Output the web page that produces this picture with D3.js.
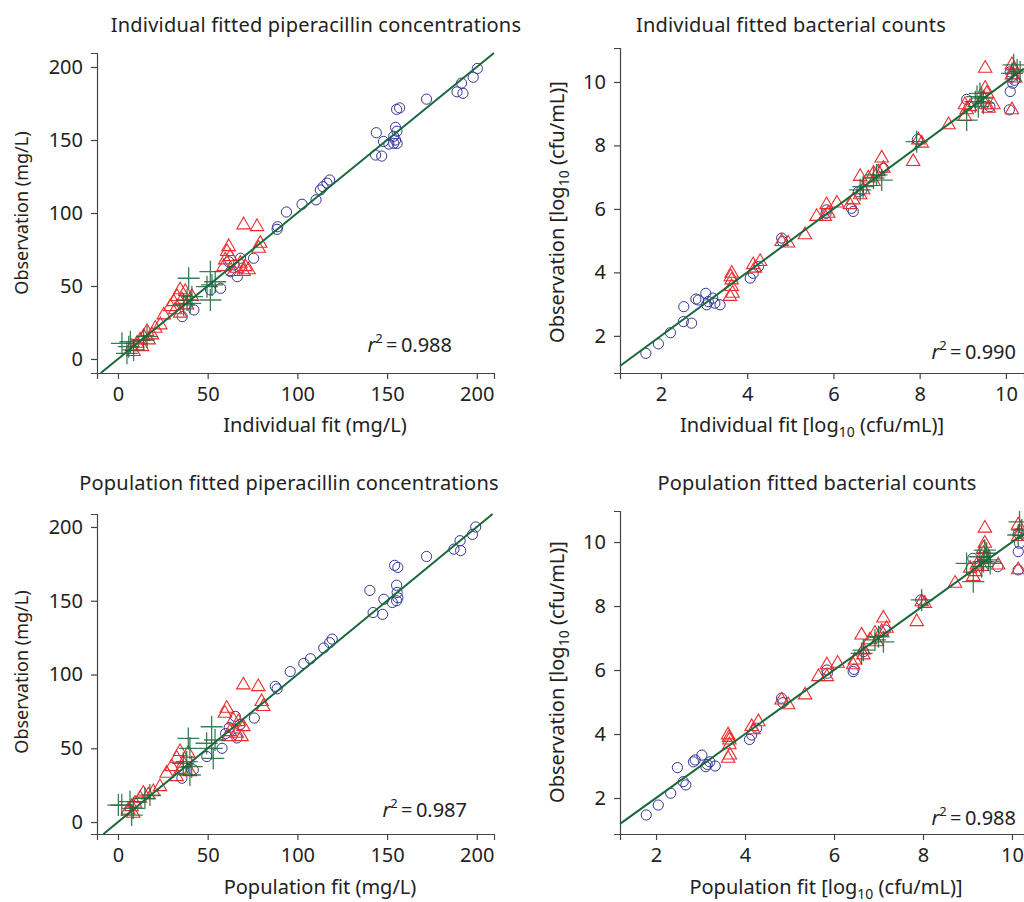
<!DOCTYPE html>
<html>
<head>
<meta charset="utf-8">
<script src="https://cdn.jsdelivr.net/npm/d3@7"></script>
<style>
  body { margin: 0; background: #fff; }
  svg { display: block; font-family: "Noto Sans", sans-serif; }
</style>
</head>
<body>
<svg id="drawing_region"></svg>
<script>
// ---- data: [fit, observation] pairs ----

// individual fitted piperacillin concentrations (mg/L)
const concIndCircles = [
    [200.3,199],[198,193],[191.5,189],[189,183],[192.3,182],[172,178],[155.3,171],[157,172],
    [154.7,158.7],[155.5,156],[144,155],[148,149],[153.7,152.5],[154.7,150],[155.6,147.7],
    [153.7,147.7],[151,147.2],[143.6,139.7],[147,139],[118,122.6],[116.5,120.5],[114.3,118],
    [112.8,115.8],[110.4,109],[102.6,106],[93.9,100.7],[89,90.6],[88.7,88.8],[75.6,69],
    [68.3,69],[61.8,66.6],[62.7,59.8],[66.5,56.4],[64.6,64.4],[57.2,48.4],[51.6,47.3],
    [42.3,33.6],[35.8,29]
];
const concIndTriangles = [
    [70,91.8],[77.5,90.6],[79.3,79.2],[78.4,75.8],[61.7,76.9],[60.8,73.5],[62.6,70],[59.8,67.8],
    [68.2,65.5],[71,63.2],[66.3,62.1],[70,59.8],[64.5,59.8],[72.8,61],[58.9,63.2],
    [34.7,47.3],[37.5,46.1],[32.9,42.7],[35.7,40.4],[29.2,35.8],[38.5,37],[31.9,33.6],
    [25.5,30.1],[34.7,31.3],[31,39.2],[41.2,42.7],
    [23.6,23.3],[20.8,21],[16.2,18.7],[14.3,15.3],[12.4,13],[10.6,10.7],[7.8,8.4],[8.7,5],
    [17.1,13],[19,16.4],[13.4,8.4]
];
const concIndCrosses = [
    [39.4,55.3],[38.5,40.4],[40.3,38.1],[36.6,37],[41.2,42.7],
    [51.5,59.8],[52.4,50.7],[51.5,40.4],[49.6,49.5],[54.2,52.9],
    [16.2,15.3],[14.3,13],[6.9,11.8],[2.2,10.7],[6,8.4],[5,3.9],[8.7,6.2]
];

// population fitted piperacillin concentrations (mg/L)
const concPopCircles = [
    [199.4,200],[197.6,195],[190.7,190.7],[191,184],[187.3,185],[172,180],[154.2,174],[156,172.6],
    [140.4,157],[155.3,160.5],[155.6,155.6],[156,152],[155.3,150],[152.9,148.8],[148.2,151],
    [142.2,142],[147.5,140.8],[119.4,124],[118,121.6],[114.7,118],[107.3,110.7],[103.6,107.5],
    [96,102],[88.7,90.3],[87.7,92],[76,70.5],[66.3,57],[65.4,71.6],[62,64],[60,60],[68,66],
    [58,50],[49.5,44.4],[42,35.4],[35.6,29.7]
];
const concPopTriangles = [
    [69.9,92.9],[78.2,91.7],[80.1,81.6],[81,78.2],[60.6,77.1],[59.6,73.7],[64.3,69.2],[67.1,68],
    [69.9,64.6],[62.4,61.2],[66.2,60.1],[68.9,57.8],[61.5,57.8],
    [34.6,47.7],[32.7,43.2],[36.4,39.8],[29.9,37.5],[35.5,35.3],[27.1,33],[32.7,30.7],
    [40.1,34.1],[39.2,46.6],
    [23.4,23.9],[19.7,20.5],[16.9,18.3],[14.1,19.5],[12.3,16.1],[9.5,12.7],[7.6,10.4],
    [5.7,8.1],[8.5,5.9]
];
const concPopCrosses = [
    [39.2,56.7],[40.1,50],[38.3,40.9],[41.1,37.5],[36.4,39.8],[40.1,31.9],
    [52.2,64.6],[54.1,55.6],[52.2,50],[53.1,43.2],[49.4,53.4],
    [17.8,18.3],[15,16.1],[6.7,13.8],[2.1,11.5],[0.2,11.5],[7.6,4.7],[8.5,9.3]
];

// individual fitted bacterial counts (log10 cfu/mL)
const bactIndCircles = [
    [1.65,1.45],[1.94,1.75],[2.22,2.1],[2.52,2.45],[2.71,2.4],[2.53,2.92],[2.81,3.16],[2.87,3.13],
    [3.04,3.34],[3.06,2.98],[3.2,3.19],[3.25,3.03],[3.37,2.98],[3.1,3.08],[4.07,3.82],[4.14,3.97],
    [4.26,4.18],[4.8,5.08],[4.82,4.97],[5.84,5.97],[5.83,5.86],[6.42,6.02],[6.46,5.92],[6.58,6.54],
    [6.66,6.6],[7.16,7.28],[7.95,8.19],[9.09,9.45],[9.63,9.22],[10.1,10.32],[10.14,10.17],
    [10.16,9.96],[10.1,9.7],[10.08,9.12],[10.2,10.05]
];
const bactIndTriangles = [
    [3.64,3.97],[3.64,3.76],[3.64,3.55],[3.66,3.34],[3.6,3.24],[3.62,3.86],[4.14,4.24],[4.3,4.34],
    [4.18,4.13],[4.95,4.92],[5.34,5.18],[4.8,4.97],[5.61,5.76],[5.84,6.13],[6.08,6.18],[5.8,5.76],
    [5.88,5.86],[6.38,6.13],[6.46,6.28],[6.62,6.44],[6.62,7.02],[6.69,6.6],[6.81,6.97],[6.93,7.12],
    [6.93,6.86],[7.12,7.6],[7.16,7.28],[7.04,7.17],[7.85,7.49],[7.97,8.17],[8.05,8.07],[8.67,8.65],
    [9.05,8.91],[9.09,9.12],[9.05,9.28],[9.17,9.22],[9.52,10.43],[9.52,9.8],[9.56,9.64],[9.48,9.49],
    [9.52,9.28],[9.6,9.17],[9.71,9.28],[10.14,10.54],[10.18,10.38],[10.14,10.22],[10.22,10.12],
    [10.14,9.12]
];
const bactIndCrosses = [
    [7.93,8.12],[6.62,6.6],[6.69,6.7],[6.93,6.97],[7.12,6.91],[7.0,7.07],[9.09,8.8],[9.29,9.38],
    [9.4,9.64],[9.36,9.22],[9.44,9.49],[9.33,9.54],[9.48,9.33],[10.18,10.54],[10.26,10.38],
    [10.14,10.27],[10.33,10.32]
];

// population fitted bacterial counts (log10 cfu/mL)
const bactPopCircles = [
    [1.78,1.47],[2.05,1.78],[2.33,2.15],[2.48,2.95],[2.61,2.51],[2.67,2.41],[2.84,3.13],[2.88,3.19],
    [3.03,3.34],[3.12,2.98],[3.21,3.13],[3.33,3.0],[3.15,3.05],[4.1,3.83],[4.15,3.97],[4.26,4.18],
    [4.82,5.12],[4.85,4.98],[5.84,6.0],[5.85,5.9],[6.43,5.95],[6.45,6.02],[6.66,6.57],[7.15,7.25],
    [7.95,8.19],[9.12,9.49],[9.68,9.23],[10.14,10.27],[10.17,9.96],[10.14,9.7],[10.14,9.13]
];
const bactPopTriangles = [
    [3.62,3.97],[3.65,3.81],[3.65,3.66],[3.66,3.34],[3.62,3.24],[3.64,3.89],[4.15,4.23],[4.3,4.38],
    [4.19,4.13],[4.97,4.91],[5.35,5.22],[4.82,5.06],[5.65,5.79],[5.84,6.16],[6.08,6.21],[5.84,5.79],
    [6.43,6.16],[6.47,6.31],[6.66,6.47],[6.62,7.09],[6.66,6.62],[6.81,6.94],[6.92,7.15],[6.96,6.88],
    [7.11,7.62],[7.18,7.3],[7.07,7.2],[7.86,7.51],[7.97,8.13],[8.04,8.08],[8.72,8.71],[9.13,8.92],
    [9.17,9.07],[9.06,9.18],[9.21,9.28],[9.32,9.23],[9.69,9.28],[9.39,9.49],[9.36,9.8],[9.39,9.96],
    [9.36,9.65],[9.39,10.43],[10.14,10.53],[10.17,10.32],[10.14,10.17],[10.14,9.13]
];
const bactPopCrosses = [
    [7.97,8.19],[6.66,6.62],[6.62,6.52],[6.92,6.94],[7.11,6.88],[7.0,7.04],[9.13,8.76],[8.98,9.33],
    [9.36,9.39],[9.43,9.65],[9.32,9.23],[9.47,9.44],[9.28,9.54],[9.51,9.33],[9.39,9.75],
    [10.17,10.63],[10.22,10.38],[10.14,10.22]
];

const concTicks = [0, 50, 100, 150, 200];
const bactTicks = [2, 4, 6, 8, 10];
const rsq = ['0.988', '0.990', '0.987', '0.988'];

// ---- layout ----
const width = 1024, height = 902;
const svg = d3.select('#drawing_region')
    .attr('width', width)
    .attr('height', height);

const BLUE = '#34349a', RED = '#ee2b2b', GREEN = '#17683a';
const TEXT = '#222';

const panels = [
    { title: 'Individual fitted piperacillin concentrations', tx: 316, ty: 32,
      xlab: 'Individual fit (mg/L)', xlx: 315, xly: 432, log: false,
      ylab: 'Observation (mg/L)', ylx: 28, yly: 213, ylfs: 18,
      xd: [-11.7, 209.6], xr: [97, 494], yd: [-9.6, 209.6], yr: [373, 53],
      ticks: concTicks, circ: concIndCircles, tri: concIndTriangles, crs: concIndCrosses,
      r2: rsq[0], r2x: 452, r2y: 352 },
    { title: 'Individual fitted bacterial counts', tx: 791, ty: 32,
      xlab: 'Individual fit ', xlx: 812, xly: 432, log: true,
      ylab: 'Observation ', ylx: 564, yly: 212, ylfs: 20,
      xd: [1.05, 10.42], xr: [620, 1024], yd: [0.83, 11.07], yr: [373, 48],
      ticks: bactTicks, circ: bactIndCircles, tri: bactIndTriangles, crs: bactIndCrosses,
      r2: rsq[1], r2x: 1016, r2y: 359 },
    { title: 'Population fitted piperacillin concentrations', tx: 289, ty: 490,
      xlab: 'Population fit (mg/L)', xlx: 320, xly: 894, log: false,
      ylab: 'Observation (mg/L)', ylx: 28, yly: 672, ylfs: 18,
      xd: [-11.7, 209.6], xr: [97, 494], yd: [-8.1, 208.8], yr: [834, 514],
      ticks: concTicks, circ: concPopCircles, tri: concPopTriangles, crs: concPopCrosses,
      r2: rsq[2], r2x: 467, r2y: 817 },
    { title: 'Population fitted bacterial counts', tx: 817, ty: 490,
      xlab: 'Population fit ', xlx: 826, xly: 894, log: true,
      ylab: 'Observation ', ylx: 564, yly: 672, ylfs: 20,
      xd: [1.19, 10.27], xr: [620, 1024], yd: [0.875, 10.97], yr: [834, 511],
      ticks: bactTicks, circ: bactPopCircles, tri: bactPopTriangles, crs: bactPopCrosses,
      r2: rsq[3], r2x: 1016, r2y: 825 }
];

const triangle = d3.symbol().type(d3.symbolTriangle).size(78);

panels.forEach(p => draw(p));

function logLabel(text, base) {
    // "[log10 (cfu/mL)]" with subscript 10
    text.append('tspan').text(base + '[log');
    text.append('tspan').attr('font-size', '14px').attr('dy', 5).text('10');
    text.append('tspan').attr('dy', -5).text(' (cfu/mL)]');
}

function draw(p) {
    const xscale = d3.scaleLinear().domain(p.xd).range(p.xr);
    const yscale = d3.scaleLinear().domain(p.yd).range(p.yr);

    const g = svg.append('g');

    // axes
    const xaxis = g.append('g')
        .attr('transform', `translate(0, ${p.yr[0]})`)
        .call(d3.axisBottom(xscale).tickValues(p.ticks).tickSizeOuter(0).tickSize(6).tickPadding(8));
    const yaxis = g.append('g')
        .attr('transform', `translate(${p.xr[0]}, 0)`)
        .call(d3.axisLeft(yscale).tickValues(p.ticks).tickSizeOuter(0).tickSize(6).tickPadding(8));

    [xaxis, yaxis].forEach(a => {
        a.select('.domain').attr('stroke', '#444').attr('stroke-width', 1.2);
        a.selectAll('.tick line').attr('stroke', '#444').attr('stroke-width', 1.2);
        a.selectAll('.tick text')
            .attr('font-family', '"Noto Sans", sans-serif')
            .attr('font-size', '20px')
            .attr('fill', TEXT);
    });

    // markers
    g.append('g').selectAll('circle')
        .data(p.circ)
        .join('circle')
        .attr('cx', d => xscale(d[0]))
        .attr('cy', d => yscale(d[1]))
        .attr('r', 5.1)
        .attr('fill', 'none')
        .attr('stroke', BLUE)
        .attr('stroke-width', 1);

    g.append('g').selectAll('path')
        .data(p.tri)
        .join('path')
        .attr('d', triangle)
        .attr('transform', d => `translate(${xscale(d[0])}, ${yscale(d[1])})`)
        .attr('fill', 'none')
        .attr('stroke', RED)
        .attr('stroke-width', 1.1);

    g.append('g').selectAll('path')
        .data(p.crs)
        .join('path')
        .attr('d', 'M-11,0H11M0,-11V11')
        .attr('transform', d => `translate(${xscale(d[0])}, ${yscale(d[1])})`)
        .attr('fill', 'none')
        .attr('stroke', GREEN)
        .attr('stroke-opacity', 0.85)
        .attr('stroke-width', 1.3);

    // line of identity
    const t0 = Math.max(p.xd[0], p.yd[0]);
    const t1 = Math.min(p.xd[1], p.yd[1]);
    g.append('line')
        .attr('x1', xscale(t0)).attr('y1', yscale(t0))
        .attr('x2', xscale(t1)).attr('y2', yscale(t1))
        .attr('stroke', GREEN)
        .attr('stroke-width', 2);

    // titles and labels
    g.append('text')
        .attr('x', p.tx).attr('y', p.ty)
        .attr('text-anchor', 'middle')
        .attr('font-size', '20px')
        .attr('letter-spacing', '0.2px')
        .attr('fill', TEXT)
        .text(p.title);

    const xl = g.append('text')
        .attr('x', p.xlx).attr('y', p.xly)
        .attr('text-anchor', 'middle')
        .attr('font-size', '20px')
        .attr('fill', TEXT);
    if (p.log) logLabel(xl, p.xlab); else xl.text(p.xlab);

    const yl = g.append('text')
        .attr('transform', `translate(${p.ylx}, ${p.yly}) rotate(-90)`)
        .attr('text-anchor', 'middle')
        .attr('font-size', p.ylfs + 'px')
        .attr('fill', TEXT);
    if (p.log) logLabel(yl, p.ylab); else yl.text(p.ylab);

    const r2 = g.append('text')
        .attr('x', p.r2x).attr('y', p.r2y)
        .attr('text-anchor', 'end')
        .attr('font-size', '20px')
        .attr('fill', TEXT);
    r2.append('tspan').attr('font-style', 'italic').text('r');
    r2.append('tspan').attr('font-size', '13px').attr('dy', -9).text('2');
    r2.append('tspan').attr('dy', 9).text('\u2009=\u20090.' + p.r2.split('.')[1]);
}
</script>
</body>
</html>
